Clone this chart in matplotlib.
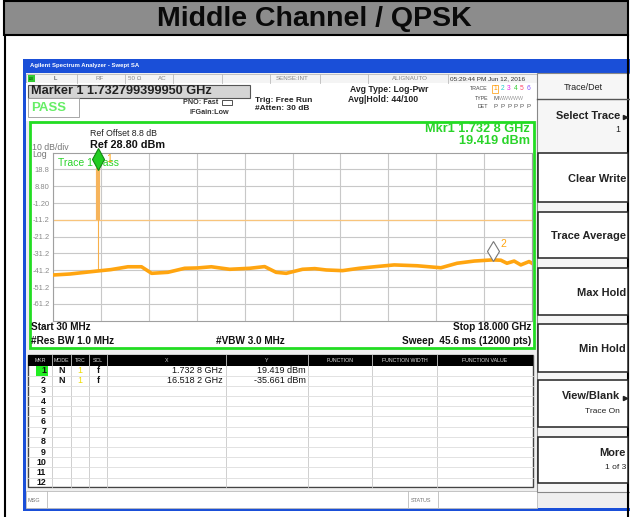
import matplotlib
matplotlib.use("Agg")
import matplotlib.pyplot as plt
from matplotlib.patches import Rectangle
from matplotlib.transforms import ScaledTranslation

plt.rcParams.update({"font.family": ["Liberation Sans", "DejaVu Sans"]})

# ---- data ----
start_ghz, stop_ghz = 0.03, 18.0
ref_dbm = 28.8
freq_ghz = [0.03, 0.67, 1.71, 2.20, 2.73, 2.84, 3.35, 3.73, 4.34, 4.97, 5.45, 5.97, 6.66, 7.41,
            7.97, 8.40, 8.78, 9.39, 9.85, 10.28, 10.89, 11.52, 12.15, 12.83, 13.69, 14.58,
            15.19, 15.83, 16.52, 16.83, 17.06, 17.33, 17.58, 17.89, 18.0]
level_dbm = [-44.0, -43.4, -41.6, -40.8, -39.4, -39.1, -39.1, -43.0, -42.4, -40.0, -39.8, -39.1,
             -40.6, -40.0, -39.0, -42.4, -43.0, -40.6, -40.2, -41.0, -41.4, -40.0, -39.0, -38.0,
             -38.5, -39.7, -37.0, -35.7, -35.0, -35.2, -37.0, -35.7, -38.0, -36.0, -37.0]
carrier_ghz, carrier_dbm = 1.7328, 19.419
carrier_base_dbm = -41.6
limit_dbm = -11.2
mkr_x_text = ["1.732 8 GHz", "16.518 2 GHz"]
mkr_y_text = ["19.419 dBm", "-35.661 dBm"]
mkr2_ghz, mkr2_dbm = 16.5182, -35.661
ytick_vals = [18.8, 8.8, -1.2, -11.2, -21.2, -31.2, -41.2, -51.2, -61.2]
ytick_text = ["18.8", "8.80", "-1.20", "-11.2", "-21.2", "-31.2", "-41.2", "-51.2", "-61.2"]
table_cols = ["MKR", "MODE", "TRC", "SCL", "X", "Y", "FUNCTION", "FUNCTION WIDTH", "FUNCTION VALUE"]
softkeys = [("Clear Write", ""), ("Trace Average", ""), ("Max Hold", ""),
            ("Min Hold", ""), ("View/Blank", "Trace On"), ("More", "1 of 3")]

GREEN = "#2ad42a"; ORANGE = "#ffa510"; BLUE = "#1a4fd8"

fig = plt.figure(figsize=(6.3, 5.17), dpi=100)
bg = fig.add_axes([0, 0, 1, 1]); bg.set_xlim(0, 630); bg.set_ylim(517, 0); bg.axis("off")

def box(x0, y0, x1, y1, fc="none", ec="none", lw=1, z=1):
    bg.add_patch(Rectangle((x0, y0), x1 - x0, y1 - y0, fc=fc, ec=ec, lw=lw, zorder=z))

def t(x, y, s, size=6, **kw):
    bg.text(x, y, s, fontsize=size, va="center", zorder=5, **kw)

def ln(xs, ys, c="#999", lw=0.8, z=2):
    bg.plot(xs, ys, color=c, lw=lw, zorder=z)

# slide header
box(0, 0, 630, 517, fc="white", z=0)
box(4, 1, 628, 35, fc="#8c8c8c", ec="black", lw=1.5)
t(314, 18.5, "Middle Channel / QPSK", 20.5, weight="bold", ha="center", color="#0a0a0a")
ln([5, 5], [35, 517], "black", 1.5); ln([628, 628], [35, 517], "black", 1.5)

# analyser window
box(23, 59, 640, 511, fc=BLUE)
box(26, 73, 640, 508, fc="#efefef")
t(30, 66, "Agilent Spectrum Analyzer - Swept SA", 4.3, color="white", weight="bold")

# status row
box(26, 74, 537, 83, fc="#f4f4f4", ec="#bbb", lw=0.6)
box(28, 75, 35, 82, fc="#3c3", ec="none")
t(29, 78.5, "LXI", 2.5, color="#030")
for xs in [77, 125, 173, 222, 270, 320, 368, 448]:
    ln([xs, xs], [74, 83], "#bbb", 0.6)
t(53, 78.5, "L", 4.5, color="#333")
t(100, 78.5, "RF", 4.5, color="#888", ha="center")
t(135, 78.5, "50 Ω", 4.5, color="#888", ha="center")
t(162, 78.5, "AC", 4.5, color="#888", ha="center")
t(309, 78.5, "SENSE:INT", 4.5, color="#888", ha="right")
t(410, 78.5, "ALIGNAUTO", 4.5, color="#888", ha="center")
t(450, 78.5, "05:29:44 PM Jun 12, 2016", 4.6, color="#333")

# marker / setup row
box(26, 83, 537, 121, fc="white")
box(28, 85, 250, 98, fc="#d4d4d4", ec="#555", lw=0.8)
t(31, 91.5, "Marker 1 1.732799399950 GHz", 9.2, weight="bold", color="#222")
box(28, 98, 79, 117, fc="white", ec="#999", lw=0.6)
t(31, 108, "PASS", 9.5, weight="bold", color="#66ee66")
t(218, 103, "PNO: Fast", 5.2, weight="bold", color="#333", ha="right")
box(222, 100, 232, 105, fc="white", ec="#333", lw=0.6)
t(229, 112, "IFGain:Low", 5.2, weight="bold", color="#333", ha="right")
t(255, 100, "Trig: Free Run", 6, weight="bold", color="#222")
t(255, 109, "#Atten: 30 dB", 6, weight="bold", color="#222")
t(350, 89, "Avg Type: Log-Pwr", 6.2, weight="bold", color="#222")
t(348, 99, "Avg|Hold: 44/100", 6.2, weight="bold", color="#222")
t(488, 89, "TRACE", 3.8, color="#444", ha="right")
t(488, 98, "TYPE", 3.8, color="#444", ha="right")
t(488, 106, "DET", 3.8, color="#444", ha="right")
for i, c in enumerate(["#ff9900", "#22cccc", "#ee22ee", "#33cc33", "#ff4466", "#8855ff"]):
    t(494 + i * 6.5, 89, str(i + 1), 4.8, color=c)
    t(494 + i * 6.5, 106, "P", 4.4, color="#555")
box(492, 85, 498, 93, ec="#ff9900", lw=0.5)
t(493, 98, "M", 4.4, color="#555")
t(499, 98, "WWWWW", 3.8, color="#999")

# graph frame and readouts
box(30, 122, 534, 348, fc="white", ec="#22dd22", lw=2)
t(90, 134, "Ref Offset 8.8 dB", 6.3, color="#222")
t(90, 145.5, "Ref 28.80 dBm", 7.8, weight="bold", color="#111")
t(32, 147, "10 dB/div", 6.3, color="#777")
t(32, 154.5, "Log", 6.3, color="#777")
t(530, 128.5, "Mkr1 1.732 8 GHz", 9.2, weight="bold", color=GREEN, ha="right")
t(530, 141, "19.419 dBm", 9.2, weight="bold", color=GREEN, ha="right")
t(31, 327, "Start 30 MHz", 7.2, weight="bold", color="#111")
t(31, 340.5, "#Res BW 1.0 MHz", 7.2, weight="bold", color="#111")
t(250, 340.5, "#VBW 3.0 MHz", 7.2, weight="bold", color="#111", ha="center")
t(531, 327, "Stop 18.000 GHz", 7.2, weight="bold", color="#111", ha="right")
t(531, 340.5, "Sweep  45.6 ms (12000 pts)", 7.2, weight="bold", color="#111", ha="right")

# spectrum graticule
ax = fig.add_axes([53 / 630, 1 - 320.7 / 517, 479 / 630, 168 / 517])
ax.set_facecolor("none")
span = stop_ghz - start_ghz
ax.set_xlim(start_ghz, stop_ghz); ax.set_ylim(ref_dbm - 100, ref_dbm)
ax.set_xticks([start_ghz + k * span / 10 for k in range(11)]); ax.set_xticklabels([])
ax.set_yticks(ytick_vals); ax.set_yticklabels(ytick_text)
ax.tick_params(length=0, labelsize=5.4, labelcolor="#8a8a8a", pad=2.5)
ax.grid(color="#c8c8c8", lw=0.8)
for s in ax.spines.values():
    s.set_color("#a0a0a0"); s.set_linewidth(0.8)
ax.axhline(limit_dbm, color="#f8c47c", lw=0.9, zorder=2)
ax.plot([carrier_ghz] * 2, [carrier_base_dbm, limit_dbm], color="#f8b04a", lw=0.8, zorder=3)
ax.plot([carrier_ghz] * 2, [limit_dbm, carrier_dbm], color="#f6b45c", lw=3, zorder=3,
        solid_capstyle="butt")
ax.plot(freq_ghz, level_dbm, color=ORANGE, lw=2.6, zorder=4, solid_joinstyle="round")
up1 = ScaledTranslation(0, 9 / 100, fig.dpi_scale_trans)
up2 = ScaledTranslation(0, 10 / 100, fig.dpi_scale_trans)
ax.text(58, 163, "Trace 1 Pass", transform=bg.transData, fontsize=7.5, color=GREEN,
        va="center", zorder=5)
ax.plot(carrier_ghz, carrier_dbm, marker="d", ms=11, mfc="#22cc22", mec="#118811", mew=0.8,
        transform=ax.transData + up1, clip_on=False, zorder=6)
ax.plot(mkr2_ghz, mkr2_dbm, marker="d", ms=10.5, mfc="white", mec="#777", mew=0.8,
        transform=ax.transData + up2, clip_on=False, zorder=6)
ax.annotate("1", (carrier_ghz, carrier_dbm), xytext=(5.5, 7), textcoords="offset points",
            fontsize=7.5, color=ORANGE, va="center", zorder=6)
ax.annotate("2", (mkr2_ghz, mkr2_dbm), xytext=(6, 12.5), textcoords="offset points",
            fontsize=7.5, color=ORANGE, va="center", zorder=6)

# marker table
bx = [28, 52, 71, 89, 107, 226, 308, 372, 437, 533]
box(28, 355, 533, 487, fc="white", ec="#444", lw=1)
box(28, 355, 533, 365.5, fc="black")
for i, name in enumerate(table_cols):
    t((bx[i] + bx[i + 1]) / 2, 360.3, name, 3.8, color="#ddd", ha="center")
    if 0 < i:
        ln([bx[i], bx[i]], [355, 487], "#c8c8c8", 0.6, 3)
row_y = [370.5 + r * 10.2 for r in range(12)]
for r, yy in enumerate(row_y):
    ln([28, 533], [yy + 5.1, yy + 5.1], "#dddddd", 0.6, 3)
    t(46, yy, str(r + 1), 6.4, weight="bold", color="#111", ha="right")
box(36, 365.8, 48, 375.5, fc="#22ee22", z=4)
for r in range(2):
    t(61.5, row_y[r], "N", 6.4, weight="bold", color="#111", ha="center")
    t(80, row_y[r], "1", 6.4, color="#eedd00", ha="center")
    t(98, row_y[r], "f", 6.4, weight="bold", color="#111", ha="center")
    t(223, row_y[r], mkr_x_text[r], 6.5, color="#111", ha="right")
    t(306, row_y[r], mkr_y_text[r], 6.5, color="#111", ha="right")

# message bar
box(26, 491, 537, 508, fc="white", ec="#bbb", lw=0.6)
for xs in [47, 408, 438]:
    ln([xs, xs], [491, 508], "#bbb", 0.6, 3)
t(28, 500, "MSG", 4, color="#777")
t(411, 500, "STATUS", 4, color="#777")

# softkey panel
box(537, 73, 632, 492, fc="#f6f6f6", ec="#888", lw=0.8)
t(583, 87, "Trace/Det", 6.5, color="#222", ha="center")
ln([537, 632], [98.5, 98.5], "#555", 1)
t(620, 116, "Select Trace", 7.9, weight="bold", color="#222", ha="right")
t(620, 130, "1", 6.3, color="#222", ha="right")
bg.plot(624.5, 117, marker=">", ms=3, color="#222", zorder=5)
key_rows = [(153, 202), (212, 258), (268, 315), (324, 372), (380, 427), (437, 483)]
for (y0, y1), (main, sub) in zip(key_rows, softkeys):
    box(538, y0, 628, y1, fc="white", ec="#222", lw=1.1, z=2)
    if sub:
        t(620 if main.startswith("View") else 626, y0 + 0.35 * (y1 - y0), main, 7.9,
          weight="bold", color="#222", ha="right")
        t(620 if main.startswith("View") else 626, y0 + 0.67 * (y1 - y0), sub, 6,
          color="#222", ha="right")
    else:
        t(626, (y0 + y1) / 2 + 1, main, 7.9, weight="bold", color="#222", ha="right")
bg.plot(624.5, 398, marker=">", ms=3, color="#222", zorder=5)

fig.savefig("out.png", dpi=100)
